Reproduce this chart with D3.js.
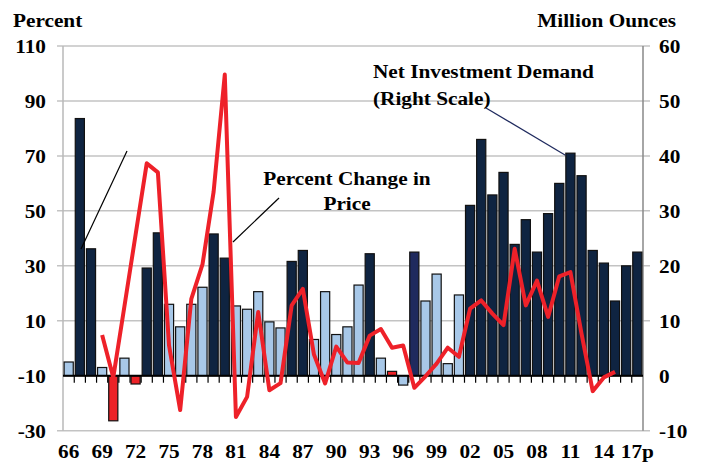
<!DOCTYPE html>
<html>
<head>
<meta charset="utf-8">
<script src="https://cdn.jsdelivr.net/npm/d3@7"></script>
<style>
  body { margin: 0; background: #fff; }
  text { font-family: "Liberation Serif", "Times New Roman", serif; font-weight: bold; fill: #000; }
</style>
</head>
<body>
<div id="chart"></div>
<script>
const years = d3.range(1966, 2018)

// net investment demand, million ounces (right scale)
const demand = [
  2.5, 46.8, 23.1, 1.5, -8.2, 3.2, -1.5, 19.6, 26.0, 13.0,
  8.9, 13.0, 16.1, 25.8, 21.4, 12.7, 12.1, 15.3, 9.8, 8.7,
  20.8, 22.8, 6.6, 15.3, 7.5, 8.9, 16.5, 22.2, 3.2, 0.8,
  -1.7, 22.5, 13.6, 18.5, 2.2, 14.7, 31.0, 43.0, 32.9, 37.0,
  23.9, 28.4, 22.5, 29.5, 35.0, 40.5, 36.4, 22.8, 20.5, 13.6,
  20.0, 22.5
]
// bar shading per year: d = dark, l = light, r = red, m = medium navy
const shade = [
  'l', 'd', 'd', 'l', 'r', 'l', 'r', 'd', 'd', 'l',
  'l', 'l', 'l', 'd', 'd', 'l', 'l', 'l', 'l', 'l',
  'd', 'd', 'l', 'l', 'l', 'l', 'l', 'd', 'l', 'r',
  'l', 'm', 'l', 'l', 'l', 'l', 'd', 'd', 'd', 'd',
  'd', 'd', 'd', 'd', 'd', 'd', 'd', 'd', 'd', 'd',
  'd', 'd'
]
// percent change in price (left scale), 1969-2015
const priceYears = d3.range(1969, 2016)
const priceChange = [
  4.8, -10.6, 15.3, 41.3, 67.3, 64.0, 1.0, -22.5, 18.0, 30.5,
  57.0, 99.6, -25.0, -17.7, 13.2, -15.3, -12.7, 15.6, 21.6, -2.3,
  -12.8, 0.6, -5.2, -5.4, 4.6, 7.0, 0.2, 1.0, -14.4, -10.2,
  -5.6, 0.2, -3.1, 14.4, 17.4, 12.6, 8.4, 36.2, 15.6, 24.6,
  11.4, 26.2, 27.7, 5.2, -15.6, -10.6, -8.6
]
const leftTicks = [110, 90, 70, 50, 30, 10, -10, -30]
const rightTicks = [60, 50, 40, 30, 20, 10, 0, -10]
const tickLabel = y => y === 2017 ? '17p' : String(y).slice(2)

const colors = { d: '#0f2441', l: '#a8c8e8', r: '#ec2227', m: '#1f2a5e' }

const W = 704
const H = 464
const plot = { left: 63, right: 643, top: 46, bottom: 430.7 }
const FS = 19
const STRETCH = 1.12

const svg = d3.select('#chart').append('svg')
  .attr('width', W)
  .attr('height', H)

// the original text is set a little wide, so stretch it horizontally
const label = (sel, px, py) => sel
  .attr('transform', (d, i) => `translate(${typeof px === 'function' ? px(d, i) : px},${typeof py === 'function' ? py(d, i) : py}) scale(${STRETCH},1)`)
  .attr('font-size', FS)

const x = d3.scaleBand()
  .domain(years)
  .range([plot.left, plot.right])
  .paddingInner(0.18)
  .paddingOuter(0.1)
const xStep = x.step()
const xc = y => x(y) + x.bandwidth() / 2
const yL = d3.scaleLinear().domain([-30, 110]).range([plot.bottom, plot.top])
const yR = d3.scaleLinear().domain([-10, 60]).range([plot.bottom, plot.top])

// grid
svg.append('g').selectAll('line')
  .data(leftTicks.filter(t => t !== -10))
  .enter().append('line')
  .attr('x1', plot.left - 6)
  .attr('x2', plot.right + 7)
  .attr('y1', d => yL(d))
  .attr('y2', d => yL(d))
  .attr('stroke', '#c3c3c3')
  .attr('stroke-width', 1.5)

// left + right axis lines
svg.append('line')
  .attr('x1', plot.left).attr('x2', plot.left)
  .attr('y1', plot.top).attr('y2', plot.bottom)
  .attr('stroke', '#b8b8b8').attr('stroke-width', 1.5)
svg.append('line')
  .attr('x1', plot.right).attr('x2', plot.right)
  .attr('y1', plot.top).attr('y2', plot.bottom)
  .attr('stroke', '#888').attr('stroke-width', 1.5)

svg.append('g').selectAll('text')
  .data(leftTicks)
  .enter().append('text')
  .attr('text-anchor', 'end')
  .call(label, 46, d => yL(d) + 7)
  .text(d => d)

svg.append('g').selectAll('text')
  .data(rightTicks)
  .enter().append('text')
  .call(label, 659, d => yR(d) + 7)
  .text(d => d)

// bars
svg.append('g').selectAll('rect')
  .data(years.map((y, i) => ({ year: y, val: demand[i], shade: shade[i] })))
  .enter().append('rect')
  .attr('x', d => x(d.year))
  .attr('width', x.bandwidth())
  .attr('y', d => yR(Math.max(0, d.val)))
  .attr('height', d => Math.abs(yR(d.val) - yR(0)))
  .attr('fill', d => colors[d.shade])
  .attr('stroke', '#111')
  .attr('stroke-width', 1.2)

// zero line with category ticks
const zeroY = yR(0)
svg.append('line')
  .attr('x1', plot.left).attr('x2', plot.right)
  .attr('y1', zeroY).attr('y2', zeroY)
  .attr('stroke', '#000').attr('stroke-width', 2)
svg.append('g').selectAll('line')
  .data(years.slice(1))
  .enter().append('line')
  .attr('x1', d => x(d) - xStep * x.paddingInner() / 2)
  .attr('x2', d => x(d) - xStep * x.paddingInner() / 2)
  .attr('y1', zeroY)
  .attr('y2', zeroY + 7)
  .attr('stroke', '#000')
  .attr('stroke-width', 1.2)

svg.append('g').selectAll('text')
  .data(years.filter(y => (y - 1966) % 3 === 0))
  .enter().append('text')
  .attr('text-anchor', 'middle')
  .call(label, d => xc(d), 458)
  .text(tickLabel)

// price line
const line = d3.line()
  .x((d, i) => xc(priceYears[i]))
  .y(d => yL(d))
svg.append('path')
  .datum(priceChange)
  .attr('d', line)
  .attr('fill', 'none')
  .attr('stroke', '#ee2129')
  .attr('stroke-width', 4)
  .attr('stroke-linejoin', 'round')

// titles
svg.append('text').call(label, 13, 27).text('Percent')
svg.append('text').attr('text-anchor', 'end').call(label, 676, 27).text('Million Ounces')

// annotations
svg.append('text').call(label, 373, 78).text('Net Investment  Demand')
svg.append('text').call(label, 373, 105).text('(Right Scale)')
svg.append('line')
  .attr('x1', 486).attr('y1', 108)
  .attr('x2', xc(2011) - 5).attr('y2', yR(40.5) + 2)
  .attr('stroke', '#1f2a5e').attr('stroke-width', 1.2)

svg.append('text').attr('text-anchor', 'middle').call(label, 347, 185).text('Percent Change in')
svg.append('text').attr('text-anchor', 'middle').call(label, 347, 210).text('Price')
svg.append('line')
  .attr('x1', 279).attr('y1', 198)
  .attr('x2', 233).attr('y2', 242)
  .attr('stroke', '#000').attr('stroke-width', 1.2)

svg.append('line')
  .attr('x1', 127).attr('y1', 151)
  .attr('x2', 81).attr('y2', 249)
  .attr('stroke', '#000').attr('stroke-width', 1.2)
</script>
</body>
</html>
